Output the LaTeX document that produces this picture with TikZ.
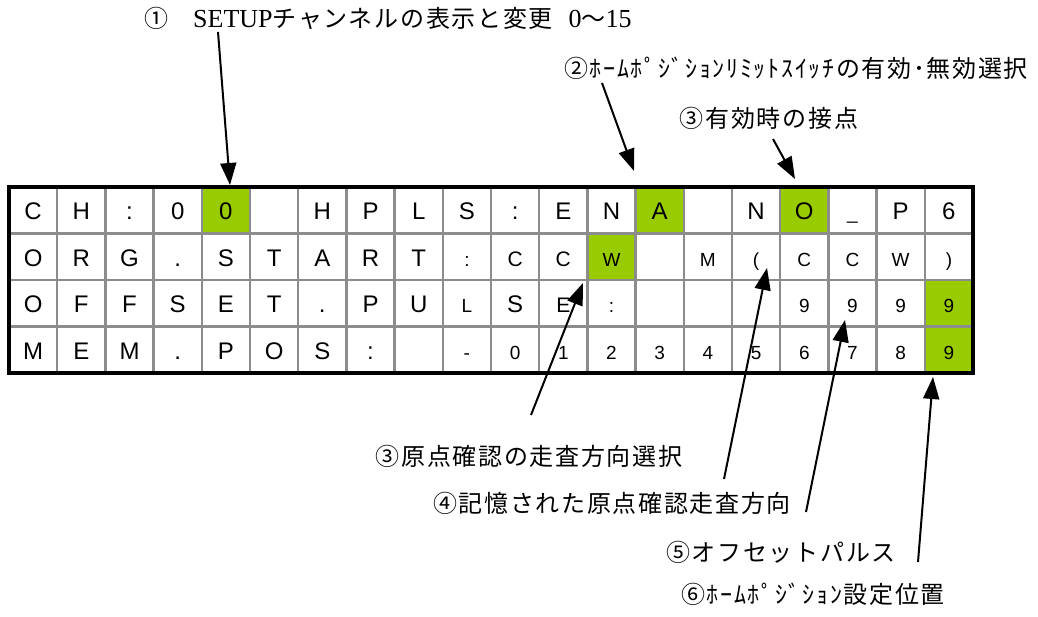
\documentclass[tikz,border=0pt]{standalone}
\usepackage{fontspec}
\setmainfont{Liberation Serif}
\newfontfamily\cjk[LetterSpace=7]{Noto Sans CJK JP}
\newfontfamily\cellfont{Liberation Sans}
\usetikzlibrary{arrows.meta}
\definecolor{lcdgreen}{HTML}{99CC00}
\definecolor{gridgray}{HTML}{8C8C8C}
\newcommand\lcdcell[4]{\node[#4] (c#1-#2) at ({9+(#2-0.5)*48.2},{187+(#1-1)*46.5+33}) {#3};}
\begin{document}
\begin{tikzpicture}[x=1pt,y=-1pt,
  lbl/.style={inner sep=0pt, font=\cjk\fontsize{24}{28}\selectfont},
  big/.style={inner sep=0pt, anchor=base, font=\cellfont\fontsize{24}{26}\selectfont},
  mid/.style={inner sep=0pt, anchor=base, font=\cellfont\fontsize{21}{24}\selectfont},
  sml/.style={inner sep=0pt, anchor=base, font=\cellfont\fontsize{19}{22}\selectfont},
  gridline/.style={gridgray, line width=2.5pt},
  ptr/.style={line width=2pt, -{Triangle[length=22pt,width=16pt]}}]
\useasboundingbox (0,0) rectangle (1038,617);
\fill[white] (0,0) rectangle (1038,617);

% green cells
\foreach \r/\c in {1/5,1/14,1/17,2/13,3/20,4/20}
  {\fill[lcdgreen] ({9+(\c-1)*48.2},{187+(\r-1)*46.5}) rectangle ++(48.2,46.5);}

% grid
\foreach \c in {1,...,19}
  {\draw[gridline] ({9+\c*48.2},187) -- ({9+\c*48.2},373);}
\foreach \r in {1,2,3}
  {\draw[gridline] (9,{187+\r*46.5}) -- (973,{187+\r*46.5});}
\draw[line width=3.5pt] (9,187) rectangle (973,373);

% row 1
\foreach \c/\t in {1/C,2/H,3/:,4/0,5/0,7/H,8/P,9/L,10/S,11/:,12/E,13/N,14/A,16/N,17/O,19/P,20/6}
  {\lcdcell{1}{\c}{\t}{big}}
\lcdcell{1}{18}{\_}{sml}
% row 2
\foreach \c/\t in {1/O,2/R,3/G,4/.,5/S,6/T,7/A,8/R,9/T}
  {\lcdcell{2}{\c}{\t}{big}}
\foreach \c/\t in {11/C,12/C}
  {\lcdcell{2}{\c}{\t}{mid}}
\foreach \c/\t in {10/:,13/W,15/M,17/C,18/C,19/W}
  {\lcdcell{2}{\c}{\t}{sml}}
\lcdcell{2}{16}{(}{sml}
\lcdcell{2}{20}{)}{sml}
% row 3
\foreach \c/\t in {1/O,2/F,3/F,4/S,5/E,6/T,7/.,8/P,9/U,11/S}
  {\lcdcell{3}{\c}{\t}{big}}
\lcdcell{3}{12}{E}{mid}
\foreach \c/\t in {10/L,13/:,17/9,18/9,19/9,20/9}
  {\lcdcell{3}{\c}{\t}{sml}}
% row 4
\foreach \c/\t in {1/M,2/E,3/M,4/.,5/P,6/O,7/S,8/:}
  {\lcdcell{4}{\c}{\t}{big}}
\foreach \c/\t in {10/-,11/0,12/1,13/2,14/3,15/4,16/5,17/6,18/7,19/8,20/9}
  {\lcdcell{4}{\c}{\t}{sml}}

% labels
\node[lbl, anchor=west] (t1) at (144,18)
  {①\hspace{25pt}{\rmfamily\fontsize{26}{28}\selectfont SETUP}チャンネルの表示と変更\hspace{16pt}{\rmfamily\fontsize{26}{28}\selectfont 0}〜{\rmfamily\fontsize{26}{28}\selectfont 15}};
\node[lbl] (t2) at (796,68) {②ﾎｰﾑﾎﾟｼﾞｼｮﾝﾘﾐｯﾄｽｲｯﾁの有効･無効選択};
\node[lbl] (t3) at (769,118) {③有効時の接点};
\node[lbl] (t3b) at (529,456) {③原点確認の走査方向選択};
\node[lbl] (t4) at (612,503) {④記憶された原点確認走査方向};
\node[lbl] (t5) at (781,552) {⑤オフセットパルス};
\node[lbl] (t6) at (813,594) {⑥ﾎｰﾑﾎﾟｼﾞｼｮﾝ設定位置};

% arrows
\coordinate (a1s) at (218,32);  \coordinate (a1e) at (230,185);
\coordinate (a2s) at (602,83);  \coordinate (a2e) at (634,171);
\coordinate (a3s) at (773,139); \coordinate (a3e) at (795,179);
\coordinate (b3s) at (531,415); \coordinate (b3e) at (583,283);
\coordinate (b4s) at (724,479); \coordinate (b4e) at (767,268);
\coordinate (b5s) at (806,512); \coordinate (b5e) at (845,320);
\coordinate (b6s) at (918,562); \coordinate (b6e) at (933,377);
\draw[ptr] (a1s) -- (a1e);
\draw[ptr] (a2s) -- (a2e);
\draw[ptr] (a3s) -- (a3e);
\draw[ptr] (b3s) -- (b3e);
\draw[ptr] (b4s) -- (b4e);
\draw[ptr] (b5s) -- (b5e);
\draw[ptr] (b6s) -- (b6e);
\end{tikzpicture}
\end{document}
